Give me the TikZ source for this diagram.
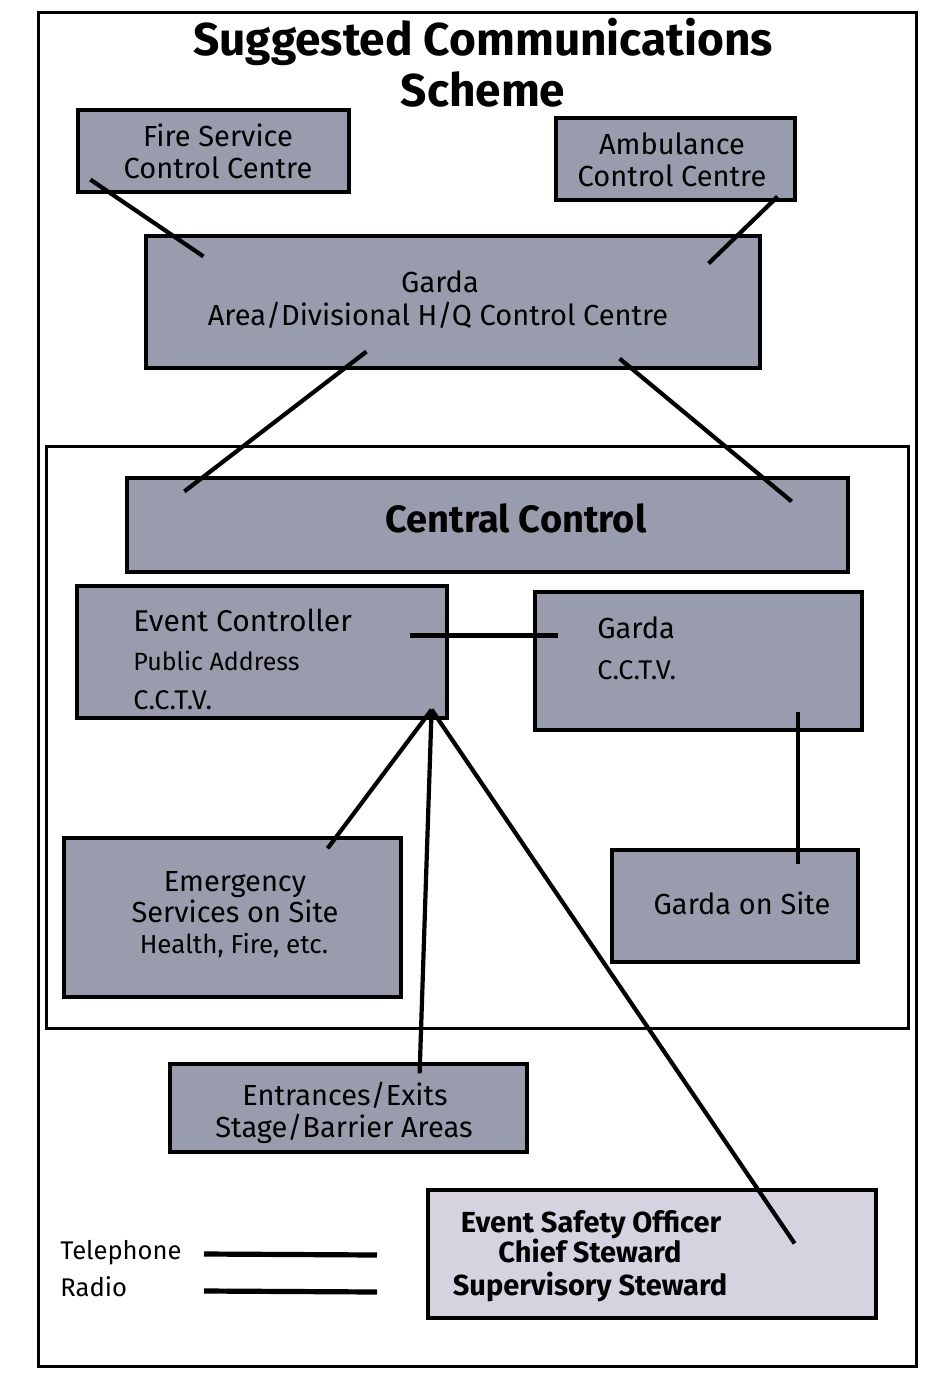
\documentclass[tikz,border=0pt]{standalone}
\usepackage{fontspec}
\setmainfont{Fira Sans}
\usetikzlibrary{fit}
\definecolor{boxfill}{RGB}{152,156,173}
\definecolor{lightfill}{RGB}{214,210,224}
\begin{document}
\begin{tikzpicture}[x=0.5pt,y=-0.5pt,
  box/.style={draw=black,line width=1.6pt,fill=boxfill,inner sep=0pt},
  lbox/.style={box,fill=lightfill},
  frame/.style={draw=black,line width=1.5pt},
  link/.style={draw=black,line width=2.1pt},
  txt/.style={inner sep=0pt,anchor=base,font=\fontsize{14.5}{17}\selectfont},
  ltxt/.style={txt,anchor=base west},
  smalltxt/.style={inner sep=0pt,anchor=base west,font=\fontsize{12.5}{15}\selectfont},
  cctxt/.style={inner sep=0pt,anchor=base west,font=\fontsize{13.5}{15}\selectfont},
  esotxt/.style={inner sep=0pt,anchor=base,font=\fontsize{14.5}{17}\selectfont\bfseries},
  titletxt/.style={inner sep=0pt,anchor=base,font=\fontsize{23}{26}\selectfont\bfseries},
  legtxt/.style={inner sep=0pt,anchor=base west,font=\fontsize{12.8}{15}\selectfont}
]
\useasboundingbox[fill=white] (0,0) rectangle (932,1376);
% frames
\draw[frame] (38,12) rectangle (916,1366);
\draw[frame] (46,446) rectangle (908,1028);
% title
\node[titletxt] (title1) at (483,55) {Suggested Communications};
\node[titletxt] (title2) at (483,106) {Scheme};
% boxes
\node[box,fit={(78,110) (349,192)}] (fire) {};
\node[txt] (fire1) at (218,146) {Fire Service};
\node[txt] (fire2) at (218,178) {Control Centre};
\node[box,fit={(556,118) (795,200)}] (amb) {};
\node[txt] (amb1) at (672,154) {Ambulance};
\node[txt] (amb2) at (672,186) {Control Centre};
\node[box,fit={(146,236) (760,368)}] (hq) {};
\node[txt] (hq1) at (440,292) {Garda};
\node[txt] (hq2) at (438,325) {Area/Divisional H/Q Control Centre};
\node[box,fit={(127,478) (848,572)}] (cc) {};
\node[inner sep=0pt,anchor=base,font=\fontsize{19}{22}\selectfont\bfseries] (cc1) at (516,532) {Central Control};
\node[box,fit={(77,586) (447,718)}] (ec) {};
\node[ltxt,font=\fontsize{15}{17}\selectfont] (ec1) at (133,631) {Event Controller};
\node[smalltxt] (ec2) at (133,670) {Public Address};
\node[cctxt] (ec3) at (133,709) {C.C.T.V.};
\node[box,fit={(535,592) (862,730)}] (gc) {};
\node[ltxt] (gc1) at (597,638) {Garda};
\node[cctxt] (gc2) at (597,679) {C.C.T.V.};
\node[box,fit={(64,838) (401,997)}] (es) {};
\node[txt] (es1) at (235,891) {Emergency};
\node[txt] (es2) at (235,922) {Services on Site};
\node[inner sep=0pt,anchor=base,font=\fontsize{13}{15}\selectfont] (es3) at (234,953) {Health, Fire, etc.};
\node[box,fit={(612,850) (858,962)}] (gs) {};
\node[txt] (gs1) at (742,914) {Garda on Site};
\node[box,fit={(170,1064) (527,1152)}] (ent) {};
\node[txt] (ent1) at (345,1105) {Entrances/Exits};
\node[txt] (ent2) at (344,1137) {Stage/Barrier Areas};
\node[lbox,fit={(428,1190) (876,1318)}] (eso) {};
\node[esotxt] (eso1) at (591,1232) {Event Safety Officer};
\node[esotxt] (eso2) at (590,1262) {Chief Steward};
\node[esotxt] (eso3) at (590,1295) {Supervisory Steward};
% legend
\node[legtxt] (tel) at (60,1259) {Telephone};
\node[legtxt] (rad) at (60,1296) {Radio};
\coordinate (tela) at (204,1254);
\coordinate (telb) at (377,1255);
\coordinate (rada) at (204,1291);
\coordinate (radb) at (377,1292);
\draw[black,line width=2.6pt] (tela) -- (telb);
\draw[black,line width=2.6pt] (rada) -- (radb);
% connectors
\draw[link] ([shift={(14,-14)}]fire.south west) -- ([shift={(59,22)}]hq.north west);
\draw[link] ([shift={(-19,-5)}]amb.south east) -- ([shift={(-53,29)}]hq.north east);
\draw[link] ([shift={(222,-18)}]hq.south west) -- ([shift={(59,15)}]cc.north west);
\draw[link] ([shift={(-142,-11)}]hq.south east) -- ([shift={(-58,25)}]cc.north east);
\draw[link] ([shift={(-39,51)}]ec.north east) -- ([shift={(25,45)}]gc.north west);
\coordinate (hub) at ([shift={(-17,-10)}]ec.south east);
\draw[link] (hub) -- ([shift={(-75,12)}]es.north east);
\draw[link] (hub) -- ([shift={(-109,11)}]ent.north east);
\draw[link] (hub) -- ([shift={(-83,55)}]eso.north east);
\draw[link] ([shift={(-66,-20)}]gc.south east) -- ([shift={(-62,16)}]gs.north east);
\end{tikzpicture}
\end{document}
